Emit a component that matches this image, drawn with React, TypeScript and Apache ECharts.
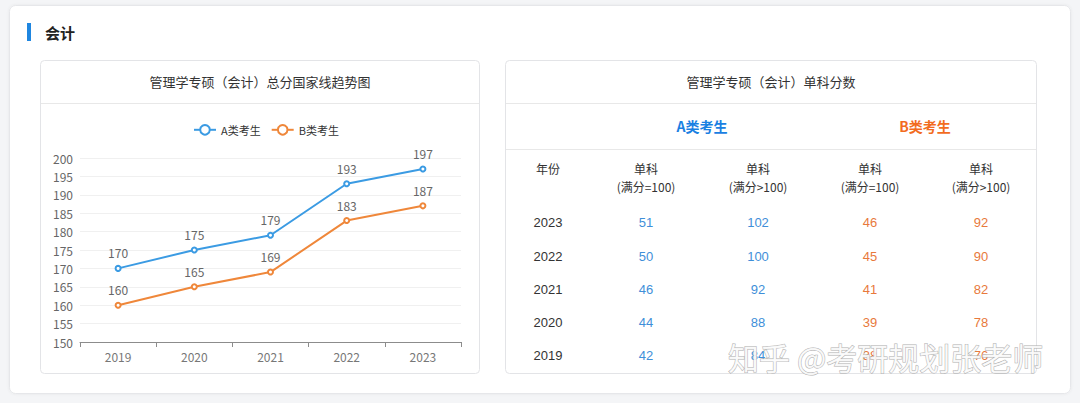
import React, { useEffect, useRef } from "react";
import * as echarts from "echarts";

const years = ["2019", "2020", "2021", "2022", "2023"];
const seriesA = [170, 175, 179, 193, 197];
const seriesB = [160, 165, 169, 183, 187];

const tableYears = ["2023", "2022", "2021", "2020", "2019"];
const aEq = [51, 50, 46, 44, 42];
const aGt = [102, 100, 92, 88, 84];
const bEq = [46, 45, 41, 39, 38];
const bGt = [92, 90, 82, 78, 76];
const colHeads = ["(满分=100)", "(满分>100)", "(满分=100)", "(满分>100)"];

const FONT = "'Noto Sans CJK SC', 'Noto Sans', sans-serif";
const NUMFONT = "'Liberation Sans', 'Noto Sans CJK SC', sans-serif";
const BLUE = "#3b9be3";
const ORANGE = "#ef873a";

export default function App() {
  const ref = useRef<HTMLDivElement>(null);
  useEffect(() => {
    document.body.style.margin = "0";
    const chart = echarts.init(ref.current!, null, { renderer: "svg" });
    const colX = [548, 646, 758, 870, 981];
    const rowY = [222, 256, 289, 322, 355];
    const tableTexts: any[] = [];
    const txt = (x: number, y: number, s: string, fill: string, size = 13, font = FONT) => ({
      type: "text",
      x,
      y,
      z: 5,
      style: { text: s, fill, fontSize: size, fontFamily: font, align: "center", verticalAlign: "middle" },
    });
    tableTexts.push(txt(colX[0], 168, "年份", "#333", 12));
    colHeads.forEach((h, i) => {
      tableTexts.push(txt(colX[i + 1], 168, "单科", "#333", 12));
      tableTexts.push(txt(colX[i + 1], 186, h, "#333", 12));
    });
    tableYears.forEach((y, r) => {
      tableTexts.push(txt(colX[0], rowY[r], y, "#333", 13, NUMFONT));
      tableTexts.push(txt(colX[1], rowY[r], String(aEq[r]), "#3f8fd9", 13, NUMFONT));
      tableTexts.push(txt(colX[2], rowY[r], String(aGt[r]), "#3f8fd9", 13, NUMFONT));
      tableTexts.push(txt(colX[3], rowY[r], String(bEq[r]), "#e8793c", 13, NUMFONT));
      tableTexts.push(txt(colX[4], rowY[r], String(bGt[r]), "#e8793c", 13, NUMFONT));
    });

    chart.setOption({
      animation: false,
      backgroundColor: "#f4f5f7",
      textStyle: { fontFamily: FONT },
      graphic: [
        { type: "rect", z: 0, shape: { x: 9.5, y: 5.5, width: 1061, height: 388, r: 6 }, style: { fill: "#fff", stroke: "#e6e7ea", lineWidth: 1, shadowBlur: 3, shadowColor: "rgba(0,0,0,0.06)" } },
        { type: "rect", z: 1, shape: { x: 27, y: 23, width: 4, height: 18 }, style: { fill: "#1f86e0" } },
        { type: "text", z: 1, x: 45, y: 32, style: { text: "会计", fill: "#222", fontSize: 15, fontWeight: "bold", fontFamily: FONT, verticalAlign: "middle" } },
        // left card
        { type: "rect", z: 1, shape: { x: 40.5, y: 60.5, width: 439, height: 313, r: 4 }, style: { fill: "#fff", stroke: "#e3e4e7", lineWidth: 1 } },
        { type: "line", z: 2, shape: { x1: 41, y1: 103.5, x2: 479, y2: 103.5 }, style: { stroke: "#e8e8e8", lineWidth: 1 } },
        { type: "text", z: 2, x: 260, y: 81, style: { text: "管理学专硕（会计）总分国家线趋势图", fill: "#333", fontSize: 13, fontFamily: FONT, align: "center", verticalAlign: "middle" } },
        // right card
        { type: "rect", z: 1, shape: { x: 505.5, y: 60.5, width: 531, height: 313, r: 4 }, style: { fill: "#fff", stroke: "#e3e4e7", lineWidth: 1 } },
        { type: "line", z: 2, shape: { x1: 506, y1: 103.5, x2: 1036, y2: 103.5 }, style: { stroke: "#e8e8e8", lineWidth: 1 } },
        { type: "line", z: 2, shape: { x1: 506, y1: 149.5, x2: 1036, y2: 149.5 }, style: { stroke: "#e8e8e8", lineWidth: 1 } },
        { type: "text", z: 2, x: 771, y: 81, style: { text: "管理学专硕（会计）单科分数", fill: "#333", fontSize: 13, fontFamily: FONT, align: "center", verticalAlign: "middle" } },
        { type: "text", z: 2, x: 702, y: 126, style: { text: "A类考生", fill: "#1a80e2", fontSize: 14, fontWeight: "bold", fontFamily: FONT, align: "center", verticalAlign: "middle" } },
        { type: "text", z: 2, x: 925, y: 126, style: { text: "B类考生", fill: "#f26c1f", fontSize: 14, fontWeight: "bold", fontFamily: FONT, align: "center", verticalAlign: "middle" } },
        ...tableTexts,
        { type: "text", z: 10, x: 728, y: 356, style: { text: "知乎 @考研规划张老师", fill: "rgba(252,252,252,0.9)", stroke: "#b0b0b0", lineWidth: 1, fontSize: 31, fontFamily: FONT, verticalAlign: "middle" } },
      ],
      legend: {
        top: 119,
        left: 188,
        z: 6,
        itemWidth: 22,
        itemHeight: 12,
        itemGap: 10,
        textStyle: { fontSize: 11, color: "#333", fontFamily: FONT },
        data: ["A类考生", "B类考生"],
      },
      grid: { left: 80, right: 619, top: 158, bottom: 61, containLabel: false },
      xAxis: {
        type: "category",
        data: years,
        boundaryGap: true,
        z: 6,
        axisLine: { lineStyle: { color: "#8c8c8c" } },
        axisTick: { show: true, length: 5, lineStyle: { color: "#8c8c8c" } },
        axisLabel: { color: "#777", fontSize: 12, margin: 8 },
      },
      yAxis: {
        type: "value",
        min: 150,
        max: 200,
        interval: 5,
        z: 6,
        axisLine: { show: false },
        axisTick: { show: false },
        axisLabel: { color: "#666", fontSize: 12, margin: 7 },
        splitLine: { lineStyle: { color: "#f0f0f0" } },
      },
      series: [
        {
          name: "A类考生",
          type: "line",
          z: 7,
          data: seriesA,
          color: BLUE,
          symbol: "emptyCircle",
          symbolSize: 5,
          lineStyle: { width: 2 },
          label: { show: true, position: "top", color: "#666", fontSize: 12, distance: 6 },
        },
        {
          name: "B类考生",
          type: "line",
          z: 7,
          data: seriesB,
          color: ORANGE,
          symbol: "emptyCircle",
          symbolSize: 5,
          lineStyle: { width: 2 },
          label: { show: true, position: "top", color: "#666", fontSize: 12, distance: 6 },
        },
      ],
    });
    return () => chart.dispose();
  }, []);
  return <div ref={ref} style={{ width: 1080, height: 403 }} />;
}
